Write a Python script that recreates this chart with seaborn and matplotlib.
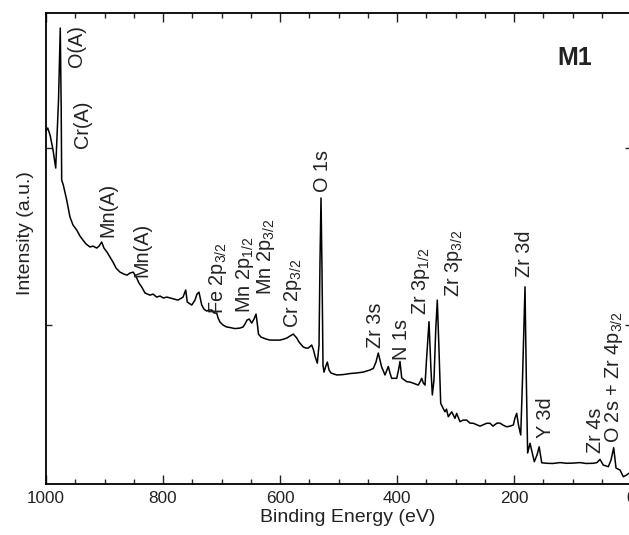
import matplotlib
matplotlib.use("Agg")
import numpy as np
import pandas as pd
import matplotlib.pyplot as plt
import seaborn as sns
from matplotlib import font_manager
from matplotlib.ticker import MultipleLocator, FixedLocator, NullFormatter

# ---------------- data ----------------
binding_energy = [
    1000, 997, 993, 988, 983.4, 978.6, 975.6, 974, 973.2, 970.4, 964.6, 959, 953.8, 947.5,
    941.9, 936.8, 931.6, 924.8, 919.7, 913.3, 909.4, 904.8, 900.9, 895.7, 890.6, 885.5,
    880.3, 873.5, 866.7, 861.5, 856.4, 850.8, 845, 841, 836.4, 830.8, 822.2, 817.1, 810.8,
    805.1, 799.5, 793.2, 788, 781.2, 774.4, 768, 765.8, 761.2, 758.5, 750.9, 745.3, 741.9,
    738.5, 733.8, 729.9, 725.3, 721.4, 716.8, 712.8, 708.2, 705.9, 702.6, 697.4, 691.1,
    685.5, 677, 668.4, 663.2, 659.8, 656.4, 652.5, 648.4, 644.4, 641, 638.5, 636.8, 632.5,
    628.5, 623.9, 617.1, 608.5, 600, 593.2, 588, 582.9, 577.3, 571.4, 567.5, 560.2, 555.6,
    551.6, 545.8, 542.7, 540.2, 536.2, 533.3, 531.6, 529.9, 528.2, 526.5, 524.8, 522.2,
    519.1, 516.2, 512.8, 503.1, 492.3, 480.3, 470.1, 458.1, 446.2, 440.5, 435.9, 432,
    428.2, 426.2, 420.5, 414.9, 412, 409.1, 400.5, 397.4, 394.9, 391.9, 383.4, 377.8,
    372.1, 363.6, 359.8, 357.8, 355, 352.1, 349.6, 345.3, 341.9, 339.6, 336.8, 333.8,
    331.1, 328.2, 325.3, 321.4, 318, 315.4, 312.3, 306.5, 300.9, 298, 292.3, 287.2, 280.9,
    275.2, 269.6, 258.1, 246.7, 241, 235.9, 229.1, 223.9, 218.8, 212.5, 206.8, 201.2,
    198.3, 195.4, 192.3, 188.5, 185.5, 181.2, 178.9, 176.7, 172.6, 165.3, 160.7, 157,
    152.6, 144.1, 133.3, 121.4, 109.9, 99.1, 87.2, 76.9, 64.4, 58.1, 53, 47.4, 38.8, 34.2,
    29.6, 25.6, 18.8, 13.1, 7.4, 3.4, 0,
]
intensity = [
    20.96, 21.13, 20.73, 19.89, 18.87, 22.71, 26.78, 22.15, 18.19, 17.91, 17.06, 16.10,
    15.65, 15.37, 15.03, 14.80, 14.58, 14.41, 14.46, 14.35, 14.46, 14.69, 14.35, 14.12,
    13.84, 13.56, 13.22, 12.99, 12.88, 12.82, 12.94, 12.99, 12.66, 12.37, 12.15, 11.81,
    11.69, 11.75, 11.58, 11.64, 11.53, 11.58, 11.53, 11.47, 11.41, 11.53, 11.58, 11.98,
    11.30, 11.13, 11.41, 11.75, 11.86, 11.13, 10.90, 10.79, 10.85, 10.85, 10.68, 10.68,
    10.40, 10.17, 10.00, 9.89, 9.86, 9.80, 9.83, 9.89, 10.06, 10.28, 10.34, 10.11, 10.34,
    10.62, 10.00, 9.49, 9.32, 9.27, 9.21, 9.15, 9.15, 9.15, 9.21, 9.27, 9.38, 9.49, 9.27,
    9.04, 8.76, 8.70, 8.70, 8.87, 8.59, 8.25, 7.85, 8.87, 13.67, 17.18, 13.11, 7.74, 7.34,
    7.63, 7.91, 7.46, 7.29, 7.18, 7.20, 7.26, 7.29, 7.34, 7.46, 7.55, 7.91, 8.42, 7.91,
    7.63, 7.18, 7.66, 7.29, 6.99, 6.99, 7.46, 7.94, 7.01, 6.80, 6.78, 6.71, 6.61, 6.84,
    6.99, 6.72, 6.61, 8.02, 10.19, 7.46, 6.05, 6.89, 9.72, 11.41, 8.59, 5.58, 5.31, 5.10,
    5.25, 4.82, 5.10, 4.73, 5.01, 4.54, 4.63, 4.63, 4.46, 4.45, 4.29, 4.45, 4.45, 4.29,
    4.46, 4.46, 4.35, 4.25, 4.29, 4.35, 4.75, 5.01, 4.35, 3.79, 6.89, 12.16, 6.89, 2.77,
    3.32, 2.28, 2.66, 3.12, 2.22, 2.19, 2.18, 2.23, 2.19, 2.20, 2.23, 2.18, 2.19, 2.23,
    2.41, 2.09, 2.00, 2.37, 3.07, 1.92, 1.81, 1.43, 1.53, 1.63, 1.58,
]

peak_names = [
    "O(A)", "Cr(A)", "Mn(A)", "Mn(A)", r"Fe 2p$_{3/2}$", r"Mn 2p$_{1/2}$",
    r"Mn 2p$_{3/2}$", r"Cr 2p$_{3/2}$", "O 1s", "Zr 3s", "N 1s", r"Zr 3p$_{1/2}$",
    r"Zr 3p$_{3/2}$", "Zr 3d", "Y 3d", "Zr 4s", r"O 2s + Zr 4p$_{3/2}$",
]
x_ticks = [1000, 800, 600, 400, 200, 0]
x_tick_labels = ["1000", "800", "600", "400", "200", "0"]
sample_name = "M1"

# ---------------- layout (label anchor positions, data coords) ----------------
label_x = [948.7, 936.8, 894.9, 835.9, 706, 659.8, 624, 577.8, 526.5, 437.6, 391.5,
           359, 302.6, 182.9, 145.3, 61.5, 29.5]
label_y = [24.58, 20.0, 14.97, 12.71, 10.6, 10.68, 11.69, 9.83, 17.51, 8.70, 8.02,
           10.56, 11.58, 12.71, 3.62, 2.77, 3.33]

# ---------------- fonts ----------------
def has_font(name):
    try:
        font_manager.findfont(font_manager.FontProperties(family=name),
                              fallback_to_default=False)
        return True
    except Exception:
        return False

sns.set_theme(style="ticks")
NARROW = has_font("Liberation Sans Narrow")
fam = "Liberation Sans Narrow" if NARROW else "Liberation Sans"
plt.rcParams["font.family"] = [fam, "DejaVu Sans"]
plt.rcParams["mathtext.fontset"] = "custom"
plt.rcParams["mathtext.rm"] = fam
plt.rcParams["mathtext.it"] = fam + ":italic"
plt.rcParams["mathtext.bf"] = fam + ":bold"

if NARROW:
    fs_tick, fs_ann, fs_title, fs_lab = 14.5, 17.5, 21, 16.5
else:
    fs_tick, fs_ann, fs_title, fs_lab = 12.3, 14.3, 18, 14

# ---------------- figure ----------------
W, H = 629, 535
fig = plt.figure(figsize=(W / 100, H / 100), dpi=100)
ax = fig.add_axes([46 / W, (H - 484) / H, 585 / W, 471 / H])

df = pd.DataFrame({"Binding Energy (eV)": binding_energy, "Intensity": intensity})
sns.lineplot(data=df, x="Binding Energy (eV)", y="Intensity", ax=ax, sort=False,
             estimator=None, color="black", linewidth=1.1)

ax.set_xlim(1000, 0)
ax.set_ylim(1.02, 27.63)
ax.xaxis.set_major_locator(FixedLocator(x_ticks))
ax.set_xticklabels(x_tick_labels)
ax.xaxis.set_minor_locator(MultipleLocator(50))
ax.yaxis.set_major_locator(FixedLocator([10, 20]))
ax.yaxis.set_major_formatter(NullFormatter())

ax.tick_params(axis="x", which="major", direction="in", length=6.5, width=1.0,
               top=True, bottom=True, labelsize=fs_tick, pad=5.0, colors="#222222")
ax.tick_params(axis="x", which="minor", direction="in", length=3.5, width=1.0,
               top=True, bottom=True)
ax.tick_params(axis="y", which="major", direction="in", length=4, width=1.0,
               left=True, right=True)
for sp in ax.spines.values():
    sp.set_linewidth(1.3)
    sp.set_color("black")
    sp.set_visible(True)

ax.set_xlabel("Binding Energy (eV)", fontsize=fs_lab, color="#222222")
ax.xaxis.set_label_coords(0.515, -0.053)
ax.set_ylabel("Intensity (a.u.)", fontsize=fs_lab, color="#222222")
ax.yaxis.set_label_coords(-0.02, 0.533)

for name, x, y in zip(peak_names, label_x, label_y):
    ax.text(x, y, name, rotation=90, ha="center", va="bottom", fontsize=fs_ann,
            color="#222222")

ax.text(95.7, 25.08, sample_name, ha="center", va="center", fontsize=fs_title,
        fontweight="bold", color="#222222")

fig.savefig("out.png", dpi=100)
